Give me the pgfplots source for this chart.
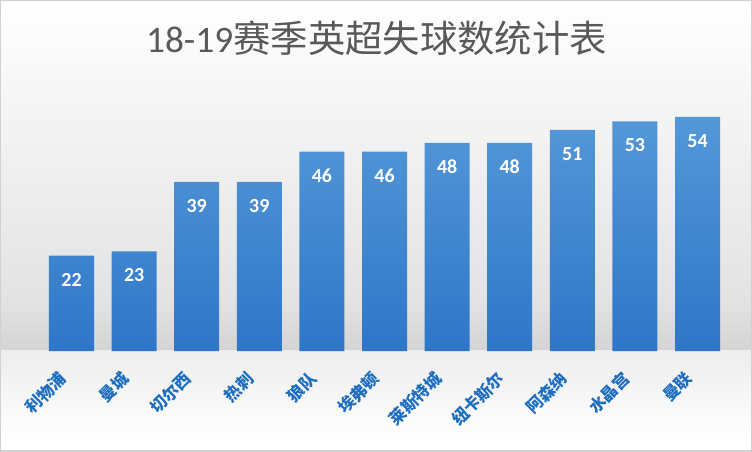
\documentclass[border=0pt]{standalone}
\usepackage{fontspec}
\setmainfont{Carlito}
\newfontfamily\cjk{Noto Sans CJK SC}
\usepackage{pgfplots}
\pgfplotsset{compat=1.18}
\definecolor{bartop}{RGB}{84,152,216}
\definecolor{barbot}{RGB}{46,118,200}
\definecolor{lblblue}{RGB}{30,110,192}
\definecolor{titlegray}{RGB}{89,89,89}
\begin{document}
\begin{tikzpicture}
\begin{scope}[x=1bp,y=-1bp,shift={(-40.2bp,351bp)}]
  \fill[white] (0,0) rectangle (752,452);
  \shade[top color=white,bottom color=black!3] (0,0) rectangle (752,80);
  \shade[top color=black!3,bottom color=black!11] (0,80) rectangle (752,300);
  \shade[top color=black!11,bottom color=black!17] (0,300) rectangle (752,351);
  \shade[top color=black!7,bottom color=white] (0,351) rectangle (752,440);
  \draw[black!18,line width=1.5bp] (0.75,0.75) rectangle (751.25,451.25);
  \node[text=titlegray,font=\fontsize{37.5}{42}\selectfont] at (376.5,38) {18-19{\cjk 赛季英超失球数统计表}};
\end{scope}
\begin{axis}[
  at={(0,0)}, anchor=south west,
  scale only axis, width=688.6bp, height=260bp,
  xmin=-0.5, xmax=10.5, ymin=0, ymax=60,
  ybar, bar width=45bp,
  axis line style={draw=none},
  major tick length=0pt,
  ytick=\empty,
  xtick={0,...,10},
  xticklabels={利物浦,曼城,切尔西,热刺,狼队,埃弗顿,莱斯特城,纽卡斯尔,阿森纳,水晶宫,曼联},
  xticklabel style={xshift=-6bp, yshift=-22bp, rotate=45, anchor=east, font=\cjk\bfseries\fontsize{16.5}{18}\selectfont, text=lblblue},
  /pgf/number format/assume math mode=true,
  nodes near coords,
  every node near coord/.append style={anchor=center, yshift=-24bp, text=white, font=\bfseries\fontsize{20}{22}\selectfont},
  clip=false,
]
\addplot[draw=none, top color=bartop, bottom color=barbot] coordinates {(0,22) (1,23) (2,39) (3,39) (4,46) (5,46) (6,48) (7,48) (8,51) (9,53) (10,54)};
\end{axis}
\end{tikzpicture}
\end{document}
